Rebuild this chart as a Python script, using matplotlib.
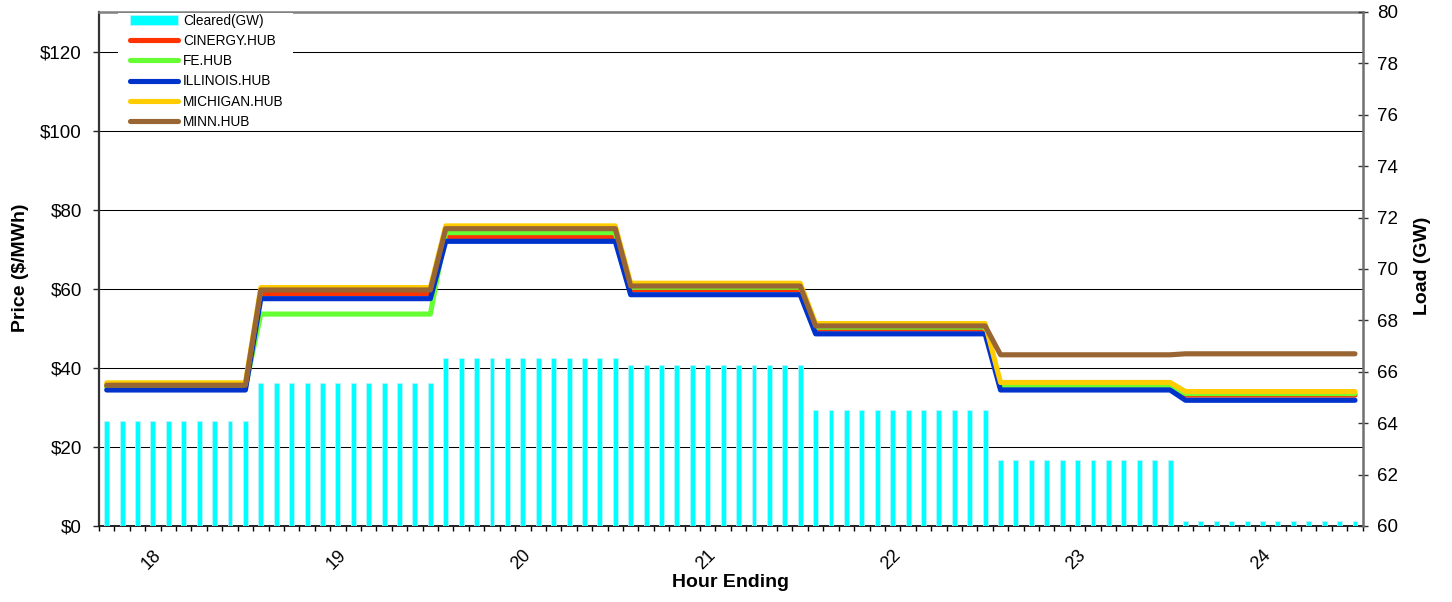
import matplotlib
matplotlib.use('Agg')
import matplotlib.pyplot as plt
from matplotlib.patches import Rectangle
import numpy as np

plt.rcParams['font.family'] = ['Liberation Sans', 'DejaVu Sans']

# ---- data (5-minute intervals, hours ending 18..24) ----
hour_labels = ['18', '19', '20', '21', '22', '23', '24']
label_index = [2.9, 14.9, 26.9, 38.9, 50.9, 62.9, 74.9]  # category position of each hour label

cleared_gw = [
    64.1, 64.1, 64.1, 64.1, 64.1, 64.1, 64.1, 64.1, 64.1, 64.1,
    65.55, 65.55, 65.55, 65.55, 65.55, 65.55, 65.55, 65.55, 65.55, 65.55, 65.55, 65.55,
    66.55, 66.55, 66.55, 66.55, 66.55, 66.55, 66.55, 66.55, 66.55, 66.55, 66.55, 66.55,
    66.25, 66.25, 66.25, 66.25, 66.25, 66.25, 66.25, 66.25, 66.25, 66.25, 66.25, 66.25,
    64.5, 64.5, 64.5, 64.5, 64.5, 64.5, 64.5, 64.5, 64.5, 64.5, 64.5, 64.5,
    62.55, 62.55, 62.55, 62.55, 62.55, 62.55, 62.55, 62.55, 62.55, 62.55, 62.55, 62.55,
    60.2, 60.2, 60.2, 60.2, 60.2, 60.2, 60.2, 60.2, 60.2, 60.2, 60.2, 60.2,
]
cinergy = [
    35.3, 35.3, 35.3, 35.3, 35.3, 35.3, 35.3, 35.3, 35.3, 35.3,
    58.8, 58.8, 58.8, 58.8, 58.8, 58.8, 58.8, 58.8, 58.8, 58.8, 58.8, 58.8,
    73.1, 73.1, 73.1, 73.1, 73.1, 73.1, 73.1, 73.1, 73.1, 73.1, 73.1, 73.1,
    59.8, 59.8, 59.8, 59.8, 59.8, 59.8, 59.8, 59.8, 59.8, 59.8, 59.8, 59.8,
    49.8, 49.8, 49.8, 49.8, 49.8, 49.8, 49.8, 49.8, 49.8, 49.8, 49.8, 49.8,
    35.2, 35.2, 35.2, 35.2, 35.2, 35.2, 35.2, 35.2, 35.2, 35.2, 35.2, 35.2,
    33.1, 33.1, 33.1, 33.1, 33.1, 33.1, 33.1, 33.1, 33.1, 33.1, 33.1, 33.1,
]
fe = [
    35.2, 35.2, 35.2, 35.2, 35.2, 35.2, 35.2, 35.2, 35.2, 35.2,
    53.6, 53.6, 53.6, 53.6, 53.6, 53.6, 53.6, 53.6, 53.6, 53.6, 53.6, 53.6,
    74.2, 74.2, 74.2, 74.2, 74.2, 74.2, 74.2, 74.2, 74.2, 74.2, 74.2, 74.2,
    60.4, 60.4, 60.4, 60.4, 60.4, 60.4, 60.4, 60.4, 60.4, 60.4, 60.4, 60.4,
    50.3, 50.3, 50.3, 50.3, 50.3, 50.3, 50.3, 50.3, 50.3, 50.3, 50.3, 50.3,
    35.6, 35.6, 35.6, 35.6, 35.6, 35.6, 35.6, 35.6, 35.6, 35.6, 35.6, 35.6,
    33.5, 33.5, 33.5, 33.5, 33.5, 33.5, 33.5, 33.5, 33.5, 33.5, 33.5, 33.5,
]
illinois = [
    34.4, 34.4, 34.4, 34.4, 34.4, 34.4, 34.4, 34.4, 34.4, 34.4,
    57.5, 57.5, 57.5, 57.5, 57.5, 57.5, 57.5, 57.5, 57.5, 57.5, 57.5, 57.5,
    72.0, 72.0, 72.0, 72.0, 72.0, 72.0, 72.0, 72.0, 72.0, 72.0, 72.0, 72.0,
    58.5, 58.5, 58.5, 58.5, 58.5, 58.5, 58.5, 58.5, 58.5, 58.5, 58.5, 58.5,
    48.6, 48.6, 48.6, 48.6, 48.6, 48.6, 48.6, 48.6, 48.6, 48.6, 48.6, 48.6,
    34.4, 34.4, 34.4, 34.4, 34.4, 34.4, 34.4, 34.4, 34.4, 34.4, 34.4, 34.4,
    31.8, 31.8, 31.8, 31.8, 31.8, 31.8, 31.8, 31.8, 31.8, 31.8, 31.8, 31.8,
]
michigan = [
    36.2, 36.2, 36.2, 36.2, 36.2, 36.2, 36.2, 36.2, 36.2, 36.2,
    60.3, 60.3, 60.3, 60.3, 60.3, 60.3, 60.3, 60.3, 60.3, 60.3, 60.3, 60.3,
    75.9, 75.9, 75.9, 75.9, 75.9, 75.9, 75.9, 75.9, 75.9, 75.9, 75.9, 75.9,
    61.4, 61.4, 61.4, 61.4, 61.4, 61.4, 61.4, 61.4, 61.4, 61.4, 61.4, 61.4,
    51.2, 51.2, 51.2, 51.2, 51.2, 51.2, 51.2, 51.2, 51.2, 51.2, 51.2, 51.2,
    36.3, 36.3, 36.3, 36.3, 36.3, 36.3, 36.3, 36.3, 36.3, 36.3, 36.3, 36.3,
    34.0, 34.0, 34.0, 34.0, 34.0, 34.0, 34.0, 34.0, 34.0, 34.0, 34.0, 34.0,
]
minn = [
    35.6, 35.6, 35.6, 35.6, 35.6, 35.6, 35.6, 35.6, 35.6, 35.6,
    59.7, 59.7, 59.7, 59.7, 59.7, 59.7, 59.7, 59.7, 59.7, 59.7, 59.7, 59.7,
    75.2, 75.2, 75.2, 75.2, 75.2, 75.2, 75.2, 75.2, 75.2, 75.2, 75.2, 75.2,
    60.7, 60.7, 60.7, 60.7, 60.7, 60.7, 60.7, 60.7, 60.7, 60.7, 60.7, 60.7,
    50.6, 50.6, 50.6, 50.6, 50.6, 50.6, 50.6, 50.6, 50.6, 50.6, 50.6, 50.6,
    43.3, 43.3, 43.3, 43.3, 43.3, 43.3, 43.3, 43.3, 43.3, 43.3, 43.3, 43.3,
    43.55, 43.55, 43.55, 43.55, 43.55, 43.55, 43.55, 43.55, 43.55, 43.55, 43.55, 43.55,
]
series_names = ['CINERGY.HUB', 'FE.HUB', 'ILLINOIS.HUB', 'MICHIGAN.HUB', 'MINN.HUB']
series_values = [cinergy, fe, illinois, michigan, minn]
series_colors = ['#FF3300', '#66FF33', '#0033CC', '#FFCC00', '#996633']

price_ticks = [0, 20, 40, 60, 80, 100, 120]
load_ticks = [60, 62, 64, 66, 68, 70, 72, 74, 76, 78, 80]

n = len(cleared_gw)
x = np.arange(n)

W, H = 1452, 602
fig = plt.figure(figsize=(W / 100, H / 100), dpi=100)
pos = [99 / W, 1 - 526 / H, (1362.7 - 99) / W, (526 - 12) / H]

ax = fig.add_axes(pos)           # grid + left axis
ax2 = ax.twinx()                 # bars, right axis
ax3 = fig.add_axes(pos, sharex=ax, sharey=ax)  # price lines on top
ax3.patch.set_visible(False)
ax3.axis('off')

# bars
bars = ax2.bar(x, cleared_gw, width=0.32, color='#00FFFF', edgecolor='#B8F4FF',
               linewidth=0.6, label='Cleared(GW)')
ax2.set_ylim(60, 80)
ax2.set_yticks(load_ticks)
ax2.set_yticklabels([str(v) for v in load_ticks])

# lines
line_handles = []
for vals, name, col in zip(series_values, series_names, series_colors):
    h, = ax3.plot(x, vals, color=col, lw=3.7, solid_joinstyle='round',
                  solid_capstyle='round', label=name)
    line_handles.append(h)

ax.set_xlim(-0.5, n - 0.5)
ax.set_ylim(0, 130)
ax.set_yticks(price_ticks)
ax.set_yticklabels(['$%d' % v for v in price_ticks])
ax.yaxis.grid(True, color='black', lw=0.75)
ax.set_axisbelow(True)

# x ticks: minor marks between intervals, hour labels
ax.set_xticks(np.arange(-0.5, n, 1.0), minor=True)
ax.set_xticks(label_index)
ax.set_xticklabels(hour_labels)
for t in ax.get_xticklabels():
    t.set_rotation(45)
    t.set_ha('center')
    t.set_va('center')
    t.set_rotation_mode('anchor')
ax.tick_params(axis='x', which='major', length=0, pad=24, labelsize=13)
ax.tick_params(axis='x', which='minor', length=3.8, width=1, direction='out', color='black')
ax.tick_params(axis='y', which='major', length=4.3, width=1, direction='out',
               color='#222222', pad=8, labelsize=13.5)
ax2.tick_params(axis='y', which='major', length=7.2, width=1, direction='inout',
                color='#333333', pad=6.5, labelsize=13.5)

# spines
for s in ['top', 'right', 'bottom', 'left']:
    ax2.spines[s].set_visible(False)
ax.spines['right'].set_visible(False)
ax.spines['left'].set_color('#333333')
ax.spines['left'].set_linewidth(1.6)
ax.spines['bottom'].set_color('#222222')
ax.spines['bottom'].set_linewidth(1.4)
ax.spines['top'].set_color('#808080')
ax.spines['top'].set_linewidth(1.8)
ax2.spines['right'].set_visible(True)
ax2.spines['right'].set_color('#707070')
ax2.spines['right'].set_linewidth(1.8)

# labels
ax.set_ylabel('Price ($/MWh)', fontsize=14, fontweight='bold')
ax.yaxis.set_label_coords((29 - 99) / 1263.7, (526 - 268) / 514)
ax2.set_ylabel('Load (GW)', fontsize=14, fontweight='bold')
ax2.yaxis.set_label_coords((1414 - 99) / 1263.7, (526 - 266) / 514)
ax.set_xlabel('Hour Ending', fontsize=14, fontweight='bold')
ax.xaxis.set_label_coords((731 - 99) / 1263.7, (526 - 574) / 514)

# legend: white box behind, frameless legend on top
ax3.add_patch(Rectangle((118 / W, 1 - 130 / H), (293 - 118) / W, (130 - 13) / H,
                        transform=fig.transFigure, facecolor='white',
                        edgecolor='none', zorder=4, clip_on=False))
leg = ax3.legend([bars] + line_handles, ['Cleared(GW)'] + series_names,
                 loc='upper left', bbox_to_anchor=(130 / W, 1 - 14 / H),
                 bbox_transform=fig.transFigure, frameon=False, borderpad=0,
                 borderaxespad=0, handlelength=3.5, handletextpad=0.38,
                 labelspacing=0.45, fontsize=9.8)
leg.set_zorder(5)

fig.savefig('out.png', dpi=100)
